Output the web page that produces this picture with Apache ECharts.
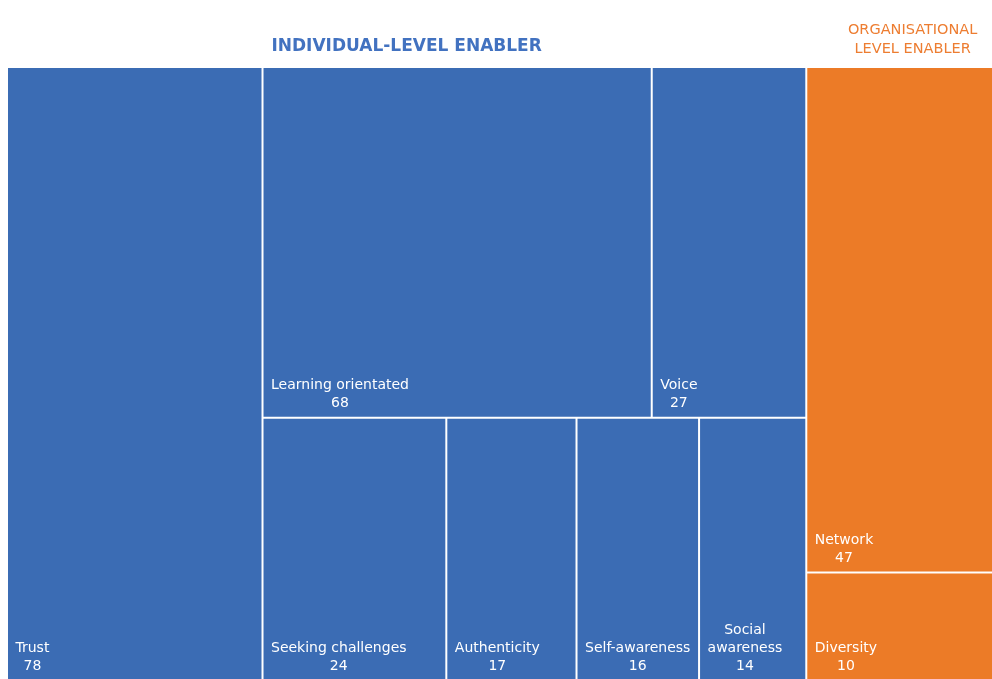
<!DOCTYPE html>
<html>
<head>
<meta charset="utf-8">
<title>Enablers</title>
<script src="https://cdn.jsdelivr.net/npm/echarts@6/dist/echarts.min.js"></script>
<style>
  html, body { margin: 0; padding: 0; background: #ffffff; }
  #chart { width: 992px; height: 679px; }
</style>
</head>
<body>
<div id="chart"></div>
<script>
// Group headers
const groupNames = ['INDIVIDUAL-LEVEL ENABLER', 'ORGANISATIONAL\nLEVEL ENABLER'];

// Individual-level enablers
const individualNames = ['Trust', 'Learning orientated', 'Voice', 'Seeking challenges',
  'Authenticity', 'Self-awareness', 'Social\nawareness'];
const individualValues = [78, 68, 27, 24, 17, 16, 14];

// Organisational-level enablers
const organisationalNames = ['Network', 'Diversity'];
const organisationalValues = [47, 10];

const BLUE = '#3b6cb4';
const ORANGE = '#ec7b27';
const FONT = 'DejaVu Sans';
const LABEL_SIZE = 14;

// Width of the widest line of a label, so that the value line can be
// centred under the name while the block stays anchored bottom-left.
const measureCtx = document.createElement('canvas').getContext('2d');
measureCtx.font = LABEL_SIZE + 'px "' + FONT + '"';
function blockWidth(text) {
  return Math.max.apply(null, String(text).split('\n').map(s => measureCtx.measureText(s).width));
}

function leaf(name, value, color) {
  const w = Math.max(blockWidth(name), blockWidth(value));
  return {
    name: name,
    value: value,
    itemStyle: { color: color },
    label: { offset: [7.5 + w / 2, -4] }
  };
}

// Invisible grouping node: only steers how the cells are tiled.
function box(children) {
  return { children: children };
}

const ind = individualNames.map((n, i) => leaf(n, individualValues[i], BLUE));
const org = organisationalNames.map((n, i) => leaf(n, organisationalValues[i], ORANGE));

const headerBase = {
  show: true, height: 60, position: 'inside', align: 'center', verticalAlign: 'middle',
  fontFamily: FONT, padding: 0, formatter: p => p.name
};

const individualGroup = {
  name: groupNames[0],
  itemStyle: { color: BLUE },
  upperLabel: Object.assign({}, headerBase, {
    offset: [0, 9], color: '#4272c0', fontSize: 17, fontWeight: 'bold'
  }),
  children: [
    ind[0],
    box([
      box([ind[1], ind[2]]),
      box([ind[3], ind[4], box([ind[5], ind[6]])])
    ])
  ]
};

const organisationalGroup = {
  name: groupNames[1],
  itemStyle: { color: ORANGE },
  upperLabel: Object.assign({}, headerBase, {
    offset: [13, 2], color: '#ed7d31', fontSize: 14.5, lineHeight: 19
  }),
  children: [org[0], org[1]]
};

const chart = echarts.init(document.getElementById('chart'), null, { renderer: 'canvas' });
chart.setOption({
  backgroundColor: '#ffffff',
  animation: false,
  series: [{
    type: 'treemap',
    left: 8, top: 8, right: 0, bottom: 0,
    sort: false,
    squareRatio: 1.27,
    roam: false,
    nodeClick: false,
    breadcrumb: { show: false },
    itemStyle: { borderWidth: 0, gapWidth: 2, borderColor: '#ffffff' },
    label: {
      show: true,
      position: 'insideBottomLeft',
      align: 'center',
      verticalAlign: 'bottom',
      distance: 0,
      padding: 0,
      color: '#ffffff',
      fontFamily: FONT,
      fontSize: LABEL_SIZE,
      lineHeight: 18,
      overflow: 'truncate',
      formatter: p => p.name + '\n' + p.value
    },
    upperLabel: { show: false },
    data: [individualGroup, organisationalGroup]
  }]
});
</script>
</body>
</html>
